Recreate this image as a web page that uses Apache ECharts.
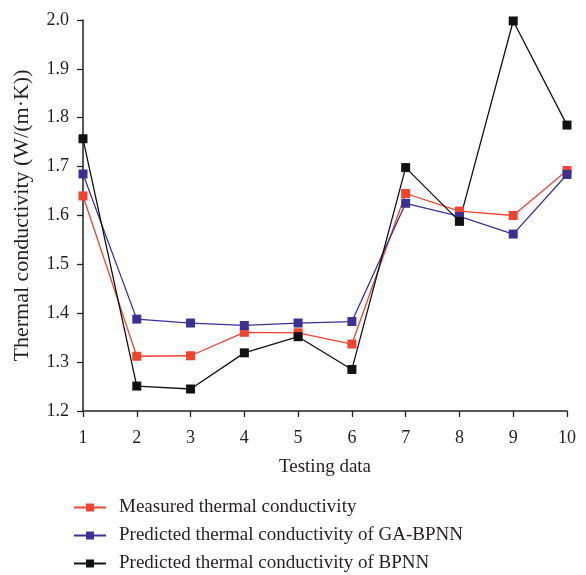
<!DOCTYPE html>
<html>
<head>
<meta charset="utf-8">
<script src="https://cdn.jsdelivr.net/npm/echarts@6/dist/echarts.min.js"></script>
<style>
html,body{margin:0;padding:0;background:#fff;}
#chart{width:586px;height:575px;}
</style>
</head>
<body>
<div id="chart"></div>
<script>
var categories = ['1','2','3','4','5','6','7','8','9','10'];
var measured = [1.640, 1.312, 1.313, 1.361, 1.360, 1.337, 1.645, 1.609, 1.600, 1.692];
var gaBpnn   = [1.685, 1.388, 1.380, 1.375, 1.380, 1.383, 1.625, 1.598, 1.562, 1.684];
var bpnn     = [1.757, 1.251, 1.245, 1.319, 1.352, 1.285, 1.698, 1.588, 1.998, 1.785];
var seriesNames = ['Measured thermal conductivity', 'Predicted thermal conductivity of GA-BPNN', 'Predicted thermal conductivity of BPNN'];
var colors = ['#EE4430', '#3A3193', '#111111'];

var font = 'Liberation Serif';
var textColor = '#231F20';
var chart = echarts.init(document.getElementById('chart'), null, {renderer: 'canvas'});

function mk(name, data, color) {
  return {
    name: name,
    type: 'line',
    data: data,
    symbol: 'rect',
    symbolSize: 9,
    clip: true,
    lineStyle: {color: color, width: 1.3},
    itemStyle: {color: color},
    emphasis: {disabled: true},
    animation: false
  };
}

chart.setOption({
  animation: false,
  textStyle: {fontFamily: font, color: textColor},
  grid: {left: 83, right: 19, top: 20, bottom: 164, containLabel: false},
  legend: {
    orient: 'vertical',
    left: 73,
    top: 498,
    padding: 0,
    height: 77,
    itemWidth: 32,
    itemHeight: 10,
    itemGap: 9,
    textStyle: {fontFamily: font, fontSize: 19, color: textColor, padding: [0,0,0,8]},
    data: seriesNames.map(function(n){return {name:n};})
  },
  xAxis: {
    type: 'category',
    data: categories,
    boundaryGap: false,
    name: 'Testing data',
    nameLocation: 'middle',
    nameGap: 47,
    nameTextStyle: {fontFamily: font, fontSize: 19, color: textColor},
    axisLine: {lineStyle: {color: '#231F20', width: 1.5}},
    axisTick: {inside: false, length: 6, lineStyle: {color: '#231F20', width: 1.3}, alignWithLabel: true},
    axisLabel: {fontFamily: font, fontSize: 18, color: textColor, margin: 18},
    splitLine: {show: false}
  },
  yAxis: {
    type: 'value',
    min: 1.2,
    max: 2.0,
    interval: 0.1,
    name: 'Thermal conductivity (W/(m·K))',
    nameLocation: 'middle',
    nameGap: 50,
    nameTextStyle: {fontFamily: font, fontSize: 22, color: textColor},
    axisLine: {show: true, lineStyle: {color: '#231F20', width: 1.5}},
    axisTick: {show: true, inside: false, length: 6, lineStyle: {color: '#231F20', width: 1.3}},
    axisLabel: {fontFamily: font, fontSize: 18, color: textColor, margin: 14,
      formatter: function(v){return v.toFixed(1);}},
    splitLine: {show: false}
  },
  series: [
    mk(seriesNames[0], measured, colors[0]),
    mk(seriesNames[1], gaBpnn, colors[1]),
    mk(seriesNames[2], bpnn, colors[2])
  ]
});
</script>
</body>
</html>
